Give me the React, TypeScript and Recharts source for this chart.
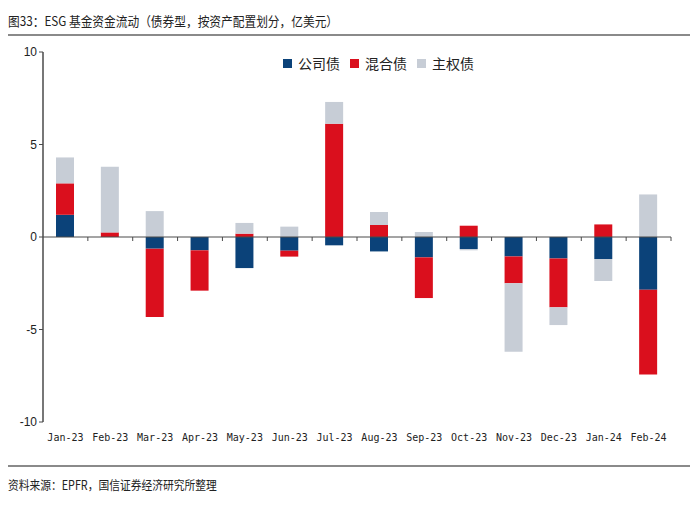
import React from "react";
import { BarChart, Bar, XAxis, YAxis, ReferenceLine } from "recharts";

const categories = ["Jan-23","Feb-23","Mar-23","Apr-23","May-23","Jun-23","Jul-23","Aug-23","Sep-23","Oct-23","Nov-23","Dec-23","Jan-24","Feb-24"];
const corporate = [1.2, 0, -0.63, -0.72, -1.68, -0.74, -0.45, -0.78, -1.1, -0.65, -1.05, -1.16, -1.19, -2.85];
const mixed = [1.7, 0.25, -3.7, -2.18, 0.18, -0.32, 6.12, 0.65, -2.2, 0.61, -1.45, -2.64, 0.68, -4.58];
const sovereign = [1.4, 3.55, 1.4, 0, 0.58, 0.56, 1.18, 0.7, 0.27, -0.07, -3.7, -0.96, -1.19, 2.3];
const yTicks = [-10, -5, 0, 5, 10];
const seriesNames = ["公司债", "混合债", "主权债"];
const colors = ["#0B4279", "#DA0F1D", "#C7CDD6"];

const data = categories.map((c, i) => ({
  name: c,
  corporate: corporate[i],
  mixed: mixed[i],
  sovereign: sovereign[i],
}));

const AXIS = "#4a4a4a";

const ZeroLine = (props: any) => {
  const { x1, x2, y1 } = props;
  const n = categories.length;
  const step = (x2 - x1) / n;
  const ticks = [];
  for (let k = 1; k <= n; k++) {
    const x = x1 + step * k;
    ticks.push(<line key={k} x1={x} x2={x} y1={y1} y2={y1 + 4} stroke={AXIS} strokeWidth={1} />);
  }
  return (
    <g>
      <line x1={x1} x2={x2} y1={y1} y2={y1} stroke={AXIS} strokeWidth={1} />
      {ticks}
    </g>
  );
};

export default function App() {
  return (
    <div style={{ position: "absolute", left: 0, top: 0, width: 700, height: 507, background: "#fff", fontFamily: "'Noto Sans CJK SC', sans-serif" }}>
      <div style={{ position: "absolute", left: 8, top: 11, fontSize: 13, color: "#222", whiteSpace: "nowrap", transform: "scaleX(0.9)", transformOrigin: "left center" }}>
        图33：ESG 基金资金流动（债券型，按资产配置划分，亿美元）
      </div>
      <div style={{ position: "absolute", left: 8, top: 34, width: 682, height: 2, background: "#8a8a8a" }} />
      <BarChart
        width={700}
        height={507}
        data={data}
        stackOffset="sign"
        margin={{ top: 52, right: 29, bottom: 55, left: 0 }}
        barSize={18}
        style={{ position: "absolute", left: 0, top: 0 }}
      >
        <XAxis
          dataKey="name"
          axisLine={false}
          tickLine={false}
          interval={0}
          height={30}
          tickSize={6}
          tickMargin={6}
          tick={{ fontSize: 10, fill: "#222", fontFamily: "'DejaVu Sans Mono', monospace" }}
        />
        <YAxis
          domain={[-10, 10]}
          ticks={yTicks}
          width={43}
          axisLine={{ stroke: AXIS, strokeWidth: 1.5 }}
          tickLine={{ stroke: AXIS }}
          tickSize={4}
          tick={{ fontSize: 12, fill: "#222", fontFamily: "'Liberation Sans', Arial, sans-serif" }}
        />
        <Bar dataKey="corporate" stackId="a" fill={colors[0]} isAnimationActive={false} />
        <Bar dataKey="mixed" stackId="a" fill={colors[1]} isAnimationActive={false} />
        <Bar dataKey="sovereign" stackId="a" fill={colors[2]} isAnimationActive={false} />
        <ReferenceLine y={0} shape={ZeroLine} ifOverflow="visible" />
      </BarChart>
      <div style={{ position: "absolute", left: 283, top: 53, display: "flex", alignItems: "center", fontSize: 14, color: "#222", whiteSpace: "nowrap" }}>
        {seriesNames.map((s, i) => (
          <div key={s} style={{ display: "flex", alignItems: "center", marginRight: i < 2 ? 10 : 0 }}>
            <span style={{ display: "inline-block", width: 9, height: 9, background: colors[i], marginRight: 6 }} />
            <span>{s}</span>
          </div>
        ))}
      </div>
      <div style={{ position: "absolute", left: 8, top: 465, width: 682, height: 2, background: "#8a8a8a" }} />
      <div style={{ position: "absolute", left: 8, top: 475, fontSize: 12.5, color: "#222", whiteSpace: "nowrap", transform: "scaleX(0.86)", transformOrigin: "left center" }}>
        资料来源：EPFR，国信证券经济研究所整理
      </div>
    </div>
  );
}
